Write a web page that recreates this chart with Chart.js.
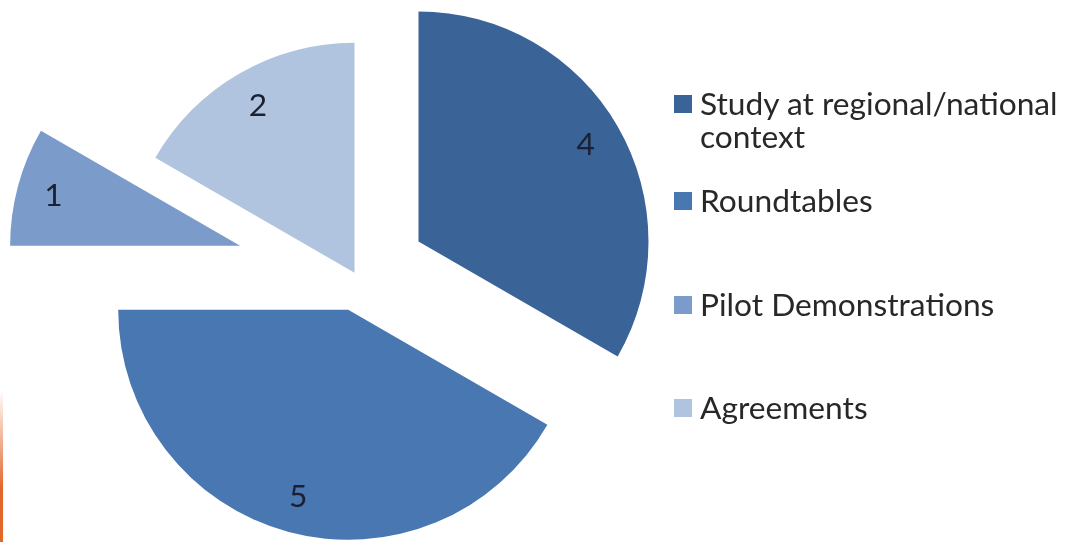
<!DOCTYPE html>
<html>
<head>
<meta charset="utf-8">
<script src="https://cdn.jsdelivr.net/npm/chart.js@4.4.0/dist/chart.umd.min.js"></script>
<style>
  html, body { margin: 0; padding: 0; background: #fff; }
  #wrap { position: relative; width: 1074px; height: 542px; overflow: hidden; background: #fff; }
  #pieCanvas { position: absolute; left: 0; top: 0; }
  #edge { position: absolute; left: 0; top: 390px; width: 3px; height: 152px;
          background: linear-gradient(to bottom, rgba(232, 110, 40, 0), #e2672b 65%); }
  #legend { position: absolute; left: 674px; top: 0; font-family: Lato, sans-serif; color: #282828; }
  .legend-item { position: absolute; left: 0; display: flex; align-items: flex-start; white-space: nowrap; line-height: 33px; }
  .legend-item:nth-child(1) { top: 87px; }
  .legend-item:nth-child(2) { top: 184px; }
  .legend-item:nth-child(3) { top: 288px; }
  .legend-item:nth-child(4) { top: 391px; }
  .legend-box { width: 18px; height: 18px; margin-top: 8px; margin-right: 8px; flex: none; }
</style>
</head>
<body>
<div id="wrap">
  <canvas id="pieCanvas" width="1074" height="542"></canvas>
  <div id="edge"></div>
  <div id="legend"></div>
</div>
<script>
  // data
  const labels = ['Study at regional/national context', 'Roundtables', 'Pilot Demonstrations', 'Agreements'];
  const legendLines = [['Study at regional/national', 'context'], ['Roundtables'], ['Pilot Demonstrations'], ['Agreements']];
  const values = [4, 5, 1, 2];
  const colors = ['#3a6397', '#4877b2', '#7b9bcb', '#b1c4df'];
  const explode = [284, 136, 484, 20]; // chart.js offset = 4x the shift in px

  const pieRadius = 230;
  const labelFont = 'Lato';

  // size the font so the long legend line spans roughly what it does in the picture
  const measureCtx = document.createElement('canvas').getContext('2d');
  measureCtx.font = `34px ${labelFont}`;
  const fontSize = Math.round(34 * 358 / measureCtx.measureText(legendLines[0][0]).width * 10) / 10;

  const legendEl = document.getElementById('legend');
  legendEl.style.fontSize = fontSize + 'px';
  legendLines.forEach((lines, i) => {
    const item = document.createElement('div');
    item.className = 'legend-item';
    const box = document.createElement('span');
    box.className = 'legend-box';
    box.style.background = colors[i];
    const text = document.createElement('span');
    text.innerHTML = lines.join('<br>');
    item.appendChild(box);
    item.appendChild(text);
    legendEl.appendChild(item);
  });

  // chart.js grows the radius of exploded slices and trims their angle a bit,
  // undo both so every slice keeps one radius and its true angle (like an excel explode)
  const evenExplode = {
    id: 'evenExplode',
    afterDatasetUpdate(chart, args) {
      args.meta.data.forEach(arc => {
        const shift = (arc.options.offset || 0) / 4;
        const bump = shift * (1 - Math.sin(Math.min(Math.PI, arc.circumference)));
        arc.outerRadius -= bump;
        const widen = bump / Math.PI / (arc.outerRadius + bump) / 2;
        arc.startAngle -= widen;
        arc.endAngle += widen;
      });
    }
  };

  const sliceLabels = {
    id: 'sliceLabels',
    afterDatasetsDraw(chart) {
      const ctx = chart.ctx;
      const meta = chart.getDatasetMeta(0);
      ctx.save();
      ctx.font = `${fontSize}px ${labelFont}`;
      ctx.fillStyle = '#1c2031';
      ctx.textAlign = 'center';
      ctx.textBaseline = 'middle';
      meta.data.forEach((arc, i) => {
        const mid = (arc.startAngle + arc.endAngle) / 2;
        const dist = (arc.options.offset || 0) / 4 + pieRadius * 0.84;
        ctx.fillText(String(values[i]), arc.x + Math.cos(mid) * dist, arc.y + Math.sin(mid) * dist);
      });
      ctx.restore();
    }
  };

  new Chart(document.getElementById('pieCanvas').getContext('2d'), {
    type: 'pie',
    data: {
      labels: labels,
      datasets: [{
        data: values,
        backgroundColor: colors,
        borderWidth: 0,
        offset: explode,
        hoverOffset: 0,
        clip: false
      }]
    },
    options: {
      responsive: false,
      animation: false,
      events: [],
      radius: pieRadius,
      layout: { padding: { left: 0, right: 360, top: 12, bottom: 0 } },
      plugins: {
        legend: { display: false },
        tooltip: { enabled: false }
      }
    },
    plugins: [evenExplode, sliceLabels]
  });
</script>
</body>
</html>
